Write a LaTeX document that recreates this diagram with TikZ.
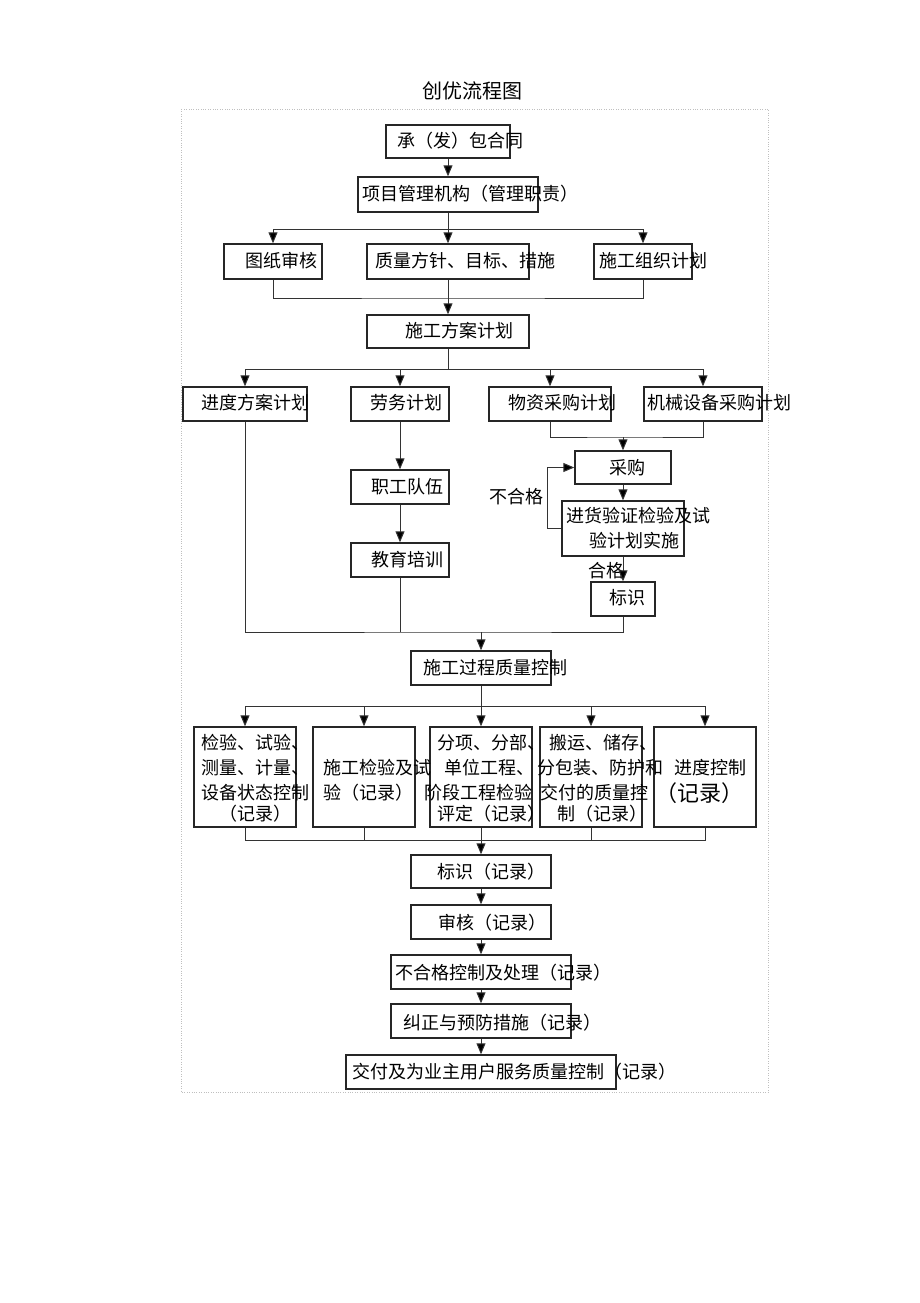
\documentclass[tikz,border=0pt]{standalone}
\usepackage{fontspec}
\newfontfamily\cjk{Noto Sans CJK SC}
\usetikzlibrary{arrows.meta}
\def\flowbox(#1)(#2,#3)(#4,#5){\node[box, minimum width={(#4-#2)*1pt}, minimum height={(#5-#3)*1pt}] (#1) at ({(#2+#4)/2},{(#3+#5)/2}) {};}
\tikzset{
  box/.style={draw=black!85, line width=1.4pt, inner sep=0pt},
  txt/.style={anchor=west, inner sep=0pt, font=\cjk\fontsize{18}{25}\selectfont},
  line/.style={draw=black!80, line width=1pt},
  arr/.style={line, -{Triangle[length=11pt,width=9pt,fill=black]}},
}
\begin{document}
\begin{tikzpicture}[x=1pt, y=-1pt]
			%%%%% START %%%%%
			\useasboundingbox (0,0) rectangle (920,1303);
			\node[inner sep=0pt, font=\cjk\fontsize{20}{24}\selectfont] (title) at (472,91) {创优流程图};
			\draw[black!25, dotted] (181,109) rectangle (768,1092);
			
			\flowbox(hetong)(386,125)(510,158)
			\flowbox(jigou)(358,177)(538,212)
			\flowbox(tuzhi)(224,244)(322,279)
			\flowbox(zhiliang)(367,244)(529,279)
			\flowbox(zuzhi)(594,244)(692,279)
			\flowbox(fangan)(367,315)(529,348)
			
			\flowbox(jindu)(183,387)(307,421)
			\flowbox(laowu)(351,387)(449,421)
			\flowbox(wuzi)(489,387)(611,421)
			\flowbox(jixie)(644,387)(762,421)
			\flowbox(caigou)(575,451)(671,484)
			\flowbox(jinhuo)(562,501)(684,556)
			\flowbox(biaoshi)(591,582)(655,616)
			\flowbox(zhigong)(351,470)(449,504)
			\flowbox(jiaoyu)(351,543)(449,577)
			\flowbox(guocheng)(411,651)(551,685)
			
			\flowbox(k1)(194,727)(296,827)
			\flowbox(k2)(313,727)(415,827)
			\flowbox(k3)(430,727)(532,827)
			\flowbox(k4)(540,727)(642,827)
			\flowbox(k5)(654,727)(756,827)
			
			\flowbox(jilu)(411,855)(551,888)
			\flowbox(shenhe)(411,905)(551,939)
			\flowbox(buhege)(391,955)(571,989)
			\flowbox(jiuzheng)(391,1004)(571,1038)
			\flowbox(jiaofu)(346,1055)(616,1089)
			
			% texts
			\node[txt] (t-hetong) at (397,141) {承（发）包合同};
			\node[txt] (t-jigou) at (362,194) {项目管理机构（管理职责）};
			\node[txt] (t-tuzhi) at (245,261) {图纸审核};
			\node[txt] (t-zhiliang) at (375,261) {质量方针、目标、措施};
			\node[txt] (t-zuzhi) at (599,261) {施工组织计划};
			\node[txt] (t-fangan) at (405,331) {施工方案计划};
			\node[txt] (t-jindu) at (201,403) {进度方案计划};
			\node[txt] (t-laowu) at (370,403) {劳务计划};
			\node[txt] (t-wuzi) at (508,403) {物资采购计划};
			\node[txt] (t-jixie) at (647,403) {机械设备采购计划};
			\node[txt] (t-caigou) at (609,468) {采购};
			\node[txt, align=left] (t-jinhuo) at (566,528) {进货验证检验及试\\\hspace*{23pt}验计划实施};
			\node[txt] (t-zhigong) at (371,487) {职工队伍};
			\node[txt] (t-jiaoyu) at (371,560) {教育培训};
			\node[txt] (t-buhege1) at (489,497) {不合格};
			\node[txt] (t-hege) at (588,571) {合格};
			\node[txt] (t-biaoshi) at (609,598) {标识};
			\node[txt] (t-guocheng) at (423,668) {施工过程质量控制};
			
			\node[txt, anchor=center, align=center] (t-k1) at (255,778) {检验、试验、\\测量、计量、\\设备状态控制\\[-4pt]（记录）};
			\node[txt, align=left] (t-k2) at (323,780) {施工检验及试\\验（记录）};
			\node[txt, align=left] (t-k3) at (424,778) {\hspace*{13pt}分项、分部、\\\hspace*{20pt}单位工程、\\阶段工程检验\\[-4pt]\hspace*{13pt}评定（记录）};
			\node[txt, align=left] (t-k4) at (537,778) {\hspace*{12pt}搬运、储存、\\分包装、防护和\\\hspace*{3pt}交付的质量控\\[-4pt]\hspace*{20pt}制（记录）};
			\node[txt] (t-k5) at (674,768) {进度控制};
			\node[txt, anchor=center, font=\cjk\fontsize{22}{26}\selectfont] (t-k5b) at (699,793) {（记录）};
			
			\node[txt] (t-jilu) at (437,872) {标识（记录）};
			\node[txt] (t-shenhe) at (438,923) {审核（记录）};
			\node[txt] (t-buhege) at (395,973) {不合格控制及处理（记录）};
			\node[txt] (t-jiuzheng) at (403,1023) {纠正与预防措施（记录）};
			\node[txt] (t-jiaofu) at (352,1072) {交付及为业主用户服务质量控制（记录）};
			
			% connectors
			\coordinate (j1) at (448,229);
			\coordinate (j2) at (448,298);
			\coordinate (j3) at (448,369);
			\coordinate (j4) at (623,437);
			\coordinate (j5) at (481,632);
			\coordinate (j6) at (481,706);
			\coordinate (j7) at (481,840);
			
			\draw[arr] (hetong) -- (jigou);
			\draw[line] (jigou.south) -- (j1);
			\foreach \n in {tuzhi,zhiliang,zuzhi}
				\draw[arr] (j1) -| (\n.north);
			\draw[line] (tuzhi.south) |- (j2) -| (zuzhi.south);
			\draw[line] (zhiliang.south) -- (j2);
			\draw[arr] (j2) -- (fangan.north);
			
			\draw[line] (fangan.south) -- (j3);
			\foreach \n in {jindu,laowu,wuzi,jixie}
				\draw[arr] (j3) -| (\n.north);
			\draw[line] (wuzi.south) |- (j4) -| (jixie.south);
			\draw[arr] (j4) -- (caigou.north);
			\draw[arr] (caigou) -- (jinhuo);
			\draw[arr] (jinhuo.west) -- ++(-14,0) |- (caigou.west);
			\draw[arr] (jinhuo) -- (biaoshi);
			\draw[arr] (laowu) -- (zhigong);
			\draw[arr] (zhigong) -- (jiaoyu);
			
			\draw[line] (jindu.south) |- (j5) -| (biaoshi.south);
			\draw[line] (jiaoyu.south) -- (jiaoyu.south |- j5);
			\draw[arr] (j5) -- (guocheng.north);
			
			\draw[line] (guocheng.south) -- (j6);
			\foreach \n in {k1,k2,k3,k4,k5}
				\draw[arr] (j6) -| (\n.north);
			\draw[line] (k1.south) |- (j7) -| (k5.south);
			\foreach \n in {k2,k3,k4}
				\draw[line] (\n.south) -- (\n.south |- j7);
			\draw[arr] (j7) -- (jilu.north);
			\draw[arr] (jilu) -- (shenhe);
			\draw[arr] (shenhe) -- (buhege);
			\draw[arr] (buhege) -- (jiuzheng);
			\draw[arr] (jiuzheng) -- (jiaofu);
			
			%%%%% END %%%%%
\end{tikzpicture}
\end{document}
